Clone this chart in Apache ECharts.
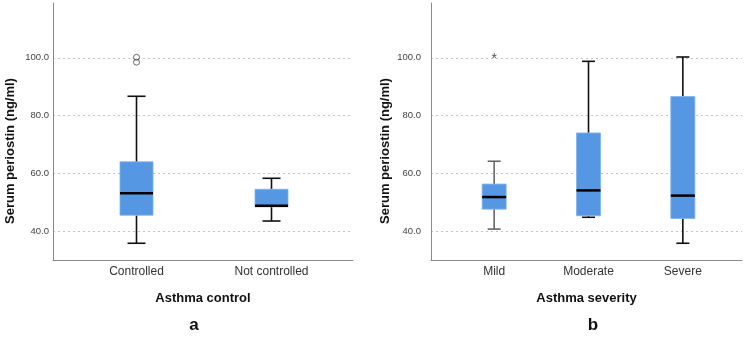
<!DOCTYPE html>
<html><head><meta charset="utf-8">
<script src="https://cdn.jsdelivr.net/npm/echarts@6/dist/echarts.min.js"></script>
<style>html,body{margin:0;padding:0;background:#fff}#c{width:749px;height:337px}</style>
</head><body><div id="c"></div>
<script>
const yMin = 30, yMax = 119;
const yTicks = [40, 60, 80, 100];
const controlCategories = ['Controlled', 'Not controlled'];
// [low whisker, Q1, median, Q3, high whisker]
const controlBox = [[35.8, 45.5, 53.1, 64.0, 86.7], [43.5, 48.4, 48.8, 54.5, 58.3]];
const controlOutliers = [[0, 100.2], [0, 98.5]];
const severityCategories = ['Mild', 'Moderate', 'Severe'];
const severityBox = [[40.7, 47.6, 51.8, 56.3, 64.2], [44.8, 45.3, 54.1, 74.0, 98.8], [35.8, 44.4, 52.3, 86.6, 100.3]];
const severityExtremes = [[0, 100.6]];

const FILL = '#5597e3';
const FONT = 'Liberation Sans, Arial, sans-serif';

function boxRender(boxW, capW, whiskerColors) {
  return function (params, api) {
    const i = api.value(0);
    const lo = api.coord([i, api.value(1)]);
    const q1 = api.coord([i, api.value(2)]);
    const md = api.coord([i, api.value(3)]);
    const q3 = api.coord([i, api.value(4)]);
    const hi = api.coord([i, api.value(5)]);
    const x = lo[0];
    const wc = whiskerColors[params.dataIndex] || '#111';
    const ls = { stroke: wc, lineWidth: 1.6 };
    return {
      type: 'group', children: [
        { type: 'line', shape: { x1: x, y1: q3[1], x2: x, y2: hi[1] }, style: ls },
        { type: 'line', shape: { x1: x, y1: q1[1], x2: x, y2: lo[1] }, style: ls },
        { type: 'line', shape: { x1: x - capW / 2, y1: hi[1], x2: x + capW / 2, y2: hi[1] }, style: ls },
        { type: 'line', shape: { x1: x - capW / 2, y1: lo[1], x2: x + capW / 2, y2: lo[1] }, style: ls },
        { type: 'rect', shape: { x: x - boxW / 2, y: q3[1], width: boxW, height: q1[1] - q3[1] }, style: { fill: FILL, stroke: '#7fb2ec', lineWidth: 0.8 } },
        { type: 'line', shape: { x1: x - boxW / 2, y1: md[1], x2: x + boxW / 2, y2: md[1] }, style: { stroke: '#000', lineWidth: 2.5 } }
      ]
    };
  };
}

function frameX(idx, name) {
  return { type: 'value', gridIndex: idx, min: 0, max: 1, show: true,
    axisLine: { show: true, lineStyle: { color: '#8a8a8a', width: 1 } },
    axisTick: { show: false }, axisLabel: { show: false }, splitLine: { show: false },
    name: name, nameLocation: 'middle', nameGap: 32,
    nameTextStyle: { fontFamily: FONT, fontWeight: 'bold', fontSize: 13, color: '#111' } };
}

const chart = echarts.init(document.getElementById('c'), null, { renderer: 'canvas' });

const yFrame = (idx, margin) => ({
  type: 'value', gridIndex: idx, min: yMin, max: yMax,
  axisLine: { show: true, lineStyle: { color: '#8a8a8a', width: 1 } },
  axisTick: { show: false, customValues: yTicks },
  axisLabel: { customValues: yTicks, formatter: v => v.toFixed(1), fontFamily: FONT, fontSize: 9.5, color: '#444', margin: margin },
  splitLine: { show: true, lineStyle: { color: '#c4c4c4', type: [2, 3], width: 1 } }
});
const yHidden = (idx) => ({ type: 'value', gridIndex: idx, min: yMin, max: yMax, show: false, splitLine: { show: false } });
const xCat = (idx, data) => ({
  type: 'category', gridIndex: idx, data: data,
  axisLine: { show: false }, axisTick: { show: false }, splitLine: { show: false },
  axisLabel: { fontFamily: FONT, fontSize: 12, color: '#333', margin: 6 }
});

chart.setOption({
  animation: false,
  grid: [
    { left: 53, top: 3, width: 300, height: 257 },
    { left: 69, top: 3, width: 270, height: 257 },
    { left: 431, top: 3, width: 311, height: 257 },
    { left: 447, top: 3, width: 283, height: 257 }
  ],
  xAxis: [
    frameX(0, 'Asthma control'),
    xCat(1, controlCategories),
    frameX(2, 'Asthma severity'),
    xCat(3, severityCategories)
  ],
  yAxis: [yFrame(0, 4), yHidden(1), yFrame(2, 10), yHidden(3)],
  series: [
    { type: 'custom', xAxisIndex: 1, yAxisIndex: 1, renderItem: boxRender(33, 18, ['#111', '#111']),
      data: controlBox.map((b, i) => [i].concat(b)), encode: { x: 0, y: [1, 2, 3, 4, 5] }, z: 3 },
    { type: 'scatter', xAxisIndex: 1, yAxisIndex: 1, symbol: 'circle', symbolSize: 6,
      itemStyle: { color: 'rgba(255,255,255,0)', borderColor: '#444', borderWidth: 1 }, data: controlOutliers, z: 4 },
    { type: 'custom', xAxisIndex: 3, yAxisIndex: 3, renderItem: boxRender(24, 13, ['#666', '#111', '#111']),
      data: severityBox.map((b, i) => [i].concat(b)), encode: { x: 0, y: [1, 2, 3, 4, 5] }, z: 3 },
    { type: 'scatter', xAxisIndex: 3, yAxisIndex: 3, symbolSize: 1, itemStyle: { color: 'rgba(0,0,0,0)' },
      label: { show: true, position: 'inside', formatter: '*', fontFamily: FONT, fontSize: 14, color: '#222', offset: [0, 3] },
      data: severityExtremes, z: 4 }
  ],
  graphic: [
    { type: 'text', x: 10, y: 151, rotation: Math.PI / 2,
      style: { text: 'Serum periostin (ng/ml)', fontFamily: FONT, fontWeight: 'bold', fontSize: 13, fill: '#111', textAlign: 'center', textVerticalAlign: 'middle' } },
    { type: 'text', x: 385, y: 151, rotation: Math.PI / 2,
      style: { text: 'Serum periostin (ng/ml)', fontFamily: FONT, fontWeight: 'bold', fontSize: 13, fill: '#111', textAlign: 'center', textVerticalAlign: 'middle' } },
    { type: 'text', x: 194, y: 325,
      style: { text: 'a', fontFamily: FONT, fontWeight: 'bold', fontSize: 17, fill: '#111', textAlign: 'center', textVerticalAlign: 'middle' } },
    { type: 'text', x: 593, y: 325,
      style: { text: 'b', fontFamily: FONT, fontWeight: 'bold', fontSize: 17, fill: '#111', textAlign: 'center', textVerticalAlign: 'middle' } }
  ]
});
</script></body></html>
